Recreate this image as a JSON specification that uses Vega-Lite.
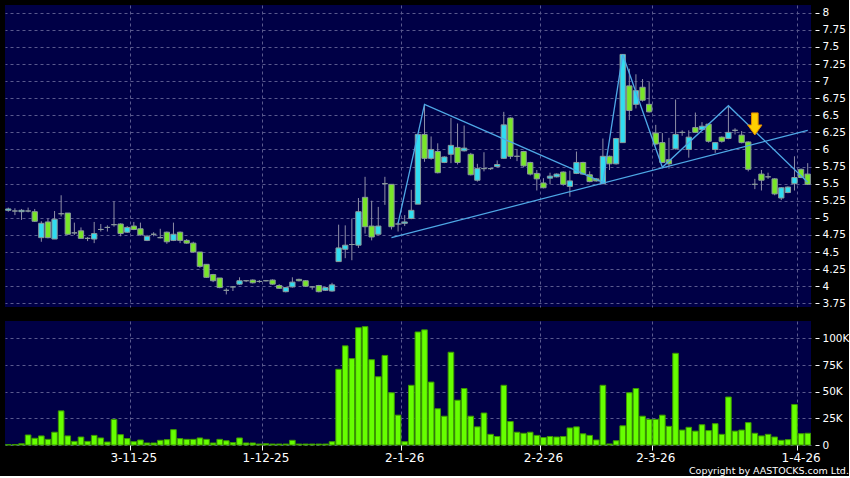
{
"$schema":"https://vega.github.io/schema/vega-lite/v6.json",
"background":"#000000",
"padding":{"left":4,"top":5,"right":0,"bottom":0},
"config":{"view":{"fill":"#000046","stroke":null},
"axis":{"labelFont":"DejaVu Sans","labelColor":"#ffffff","tickColor":"#ffffff","domain":false,"gridColor":"#5a5a8e","gridDash":[3,3],"gridOpacity":1,"title":null}},
"title":{"text":"Copyright by AASTOCKS.com Ltd.","orient":"bottom","anchor":"end","color":"#ffffff","font":"DejaVu Sans","fontSize":9.5,"fontWeight":"normal","offset":3},
"datasets":{"px":[
{"d":"2025-10-03","o":5.11,"h":5.15,"l":5.09,"c":5.13,"v":300},
{"d":"2025-10-06","o":5.10,"h":5.14,"l":5.04,"c":5.10,"v":400},
{"d":"2025-10-08","o":5.09,"h":5.13,"l":4.97,"c":5.11,"v":1200},
{"d":"2025-10-09","o":5.10,"h":5.15,"l":5.08,"c":5.10,"v":9400},
{"d":"2025-10-10","o":5.09,"h":5.13,"l":4.94,"c":4.95,"v":6300},
{"d":"2025-10-13","o":4.71,"h":4.95,"l":4.65,"c":4.92,"v":8500},
{"d":"2025-10-14","o":4.94,"h":4.99,"l":4.70,"c":4.71,"v":5300},
{"d":"2025-10-15","o":4.69,"h":5.10,"l":4.69,"c":4.98,"v":12000},
{"d":"2025-10-16","o":5.06,"h":5.33,"l":5.02,"c":5.06,"v":32000},
{"d":"2025-10-17","o":5.07,"h":5.07,"l":4.75,"c":4.76,"v":8500},
{"d":"2025-10-20","o":4.78,"h":4.93,"l":4.75,"c":4.78,"v":3400},
{"d":"2025-10-21","o":4.81,"h":4.86,"l":4.70,"c":4.70,"v":7500},
{"d":"2025-10-22","o":4.70,"h":4.72,"l":4.66,"c":4.70,"v":3400},
{"d":"2025-10-23","o":4.69,"h":4.94,"l":4.63,"c":4.77,"v":9000},
{"d":"2025-10-24","o":4.83,"h":4.91,"l":4.80,"c":4.83,"v":6600},
{"d":"2025-10-27","o":4.86,"h":4.89,"l":4.80,"c":4.86,"v":2800},
{"d":"2025-10-28","o":4.90,"h":5.24,"l":4.87,"c":4.90,"v":24000},
{"d":"2025-10-30","o":4.91,"h":4.92,"l":4.73,"c":4.77,"v":9700},
{"d":"2025-10-31","o":4.79,"h":4.88,"l":4.78,"c":4.86,"v":6000},
{"d":"2025-11-03","o":4.88,"h":4.94,"l":4.82,"c":4.83,"v":3100},
{"d":"2025-11-04","o":4.84,"h":4.93,"l":4.74,"c":4.75,"v":4700},
{"d":"2025-11-05","o":4.67,"h":4.75,"l":4.66,"c":4.73,"v":1900},
{"d":"2025-11-06","o":4.76,"h":4.79,"l":4.73,"c":4.76,"v":1900},
{"d":"2025-11-07","o":4.71,"h":4.84,"l":4.70,"c":4.71,"v":4400},
{"d":"2025-11-10","o":4.79,"h":4.80,"l":4.62,"c":4.65,"v":5000},
{"d":"2025-11-11","o":4.67,"h":4.93,"l":4.66,"c":4.76,"v":14400},
{"d":"2025-11-12","o":4.79,"h":4.80,"l":4.63,"c":4.67,"v":6000},
{"d":"2025-11-13","o":4.67,"h":4.69,"l":4.62,"c":4.63,"v":5300},
{"d":"2025-11-14","o":4.63,"h":4.65,"l":4.49,"c":4.50,"v":5300},
{"d":"2025-11-17","o":4.50,"h":4.50,"l":4.27,"c":4.29,"v":6600},
{"d":"2025-11-18","o":4.32,"h":4.32,"l":4.12,"c":4.13,"v":5300},
{"d":"2025-11-19","o":4.17,"h":4.18,"l":4.06,"c":4.08,"v":1900},
{"d":"2025-11-20","o":4.12,"h":4.12,"l":3.97,"c":3.98,"v":5300},
{"d":"2025-11-21","o":3.94,"h":3.97,"l":3.88,"c":3.94,"v":4000},
{"d":"2025-11-24","o":3.99,"h":4.00,"l":3.93,"c":3.99,"v":2200},
{"d":"2025-11-25","o":4.03,"h":4.13,"l":4.02,"c":4.08,"v":6600},
{"d":"2025-11-26","o":4.08,"h":4.09,"l":4.06,"c":4.08,"v":1900},
{"d":"2025-11-27","o":4.09,"h":4.10,"l":4.04,"c":4.05,"v":1900},
{"d":"2025-11-28","o":4.07,"h":4.09,"l":4.05,"c":4.07,"v":900},
{"d":"2025-12-01","o":4.08,"h":4.08,"l":4.07,"c":4.08,"v":1200},
{"d":"2025-12-02","o":4.09,"h":4.10,"l":4.02,"c":4.03,"v":900},
{"d":"2025-12-03","o":4.01,"h":4.03,"l":3.96,"c":3.97,"v":900},
{"d":"2025-12-04","o":3.92,"h":3.99,"l":3.91,"c":3.98,"v":900},
{"d":"2025-12-05","o":3.99,"h":4.13,"l":3.98,"c":4.06,"v":4400},
{"d":"2025-12-08","o":4.10,"h":4.11,"l":4.07,"c":4.08,"v":900},
{"d":"2025-12-09","o":4.08,"h":4.09,"l":3.99,"c":4.00,"v":900},
{"d":"2025-12-10","o":3.99,"h":4.00,"l":3.95,"c":3.99,"v":900},
{"d":"2025-12-11","o":4.01,"h":4.02,"l":3.91,"c":3.92,"v":900},
{"d":"2025-12-12","o":3.94,"h":3.99,"l":3.93,"c":3.98,"v":900},
{"d":"2025-12-15","o":3.93,"h":4.05,"l":3.92,"c":4.02,"v":3100},
{"d":"2025-12-16","o":4.36,"h":4.90,"l":4.36,"c":4.56,"v":71000},
{"d":"2025-12-17","o":4.54,"h":4.89,"l":4.41,"c":4.60,"v":93000},
{"d":"2025-12-18","o":4.61,"h":4.99,"l":4.38,"c":4.61,"v":81000},
{"d":"2025-12-19","o":4.60,"h":5.29,"l":4.56,"c":5.09,"v":110000},
{"d":"2025-12-22","o":5.30,"h":5.60,"l":4.77,"c":4.87,"v":111000},
{"d":"2025-12-23","o":4.88,"h":5.25,"l":4.67,"c":4.72,"v":80000},
{"d":"2025-12-24","o":4.76,"h":5.16,"l":4.76,"c":4.88,"v":64000},
{"d":"2025-12-29","o":5.50,"h":5.60,"l":5.19,"c":5.50,"v":84000},
{"d":"2025-12-30","o":5.49,"h":5.49,"l":4.83,"c":4.87,"v":49000,"tr":4.71},
{"d":"2025-12-31","o":4.91,"h":4.94,"l":4.80,"c":4.91,"v":28000,"zz":4.92},
{"d":"2026-01-02","o":4.92,"h":5.04,"l":4.88,"c":4.94,"v":3100},
{"d":"2026-01-05","o":4.99,"h":5.41,"l":4.98,"c":5.11,"v":56000},
{"d":"2026-01-06","o":5.20,"h":6.22,"l":5.20,"c":6.22,"v":106000},
{"d":"2026-01-07","o":6.22,"h":6.65,"l":5.82,"c":5.87,"v":108000,"zz":6.66},
{"d":"2026-01-08","o":5.87,"h":6.19,"l":5.85,"c":6.00,"v":59000},
{"d":"2026-01-09","o":5.97,"h":6.09,"l":5.65,"c":5.66,"v":34000},
{"d":"2026-01-12","o":5.81,"h":5.90,"l":5.80,"c":5.89,"v":27000},
{"d":"2026-01-13","o":5.93,"h":6.46,"l":5.80,"c":6.06,"v":87000},
{"d":"2026-01-14","o":6.03,"h":6.38,"l":5.78,"c":5.81,"v":42000},
{"d":"2026-01-15","o":5.98,"h":6.35,"l":5.97,"c":6.02,"v":53000},
{"d":"2026-01-16","o":5.93,"h":5.95,"l":5.62,"c":5.63,"v":27000},
{"d":"2026-01-19","o":5.55,"h":5.79,"l":5.53,"c":5.72,"v":17000},
{"d":"2026-01-20","o":5.72,"h":5.96,"l":5.68,"c":5.72,"v":30000},
{"d":"2026-01-21","o":5.72,"h":5.73,"l":5.70,"c":5.72,"v":10000},
{"d":"2026-01-22","o":5.75,"h":5.84,"l":5.74,"c":5.78,"v":8000},
{"d":"2026-01-23","o":5.87,"h":6.55,"l":5.86,"c":6.36,"v":56000},
{"d":"2026-01-26","o":6.46,"h":6.47,"l":5.86,"c":5.90,"v":22000},
{"d":"2026-01-27","o":5.90,"h":6.00,"l":5.83,"c":5.90,"v":12000},
{"d":"2026-01-28","o":5.97,"h":5.98,"l":5.74,"c":5.76,"v":11000},
{"d":"2026-01-29","o":5.81,"h":5.82,"l":5.62,"c":5.64,"v":12000},
{"d":"2026-01-30","o":5.65,"h":5.70,"l":5.40,"c":5.57,"v":9000},
{"d":"2026-02-02","o":5.51,"h":5.58,"l":5.43,"c":5.44,"v":7000},
{"d":"2026-02-03","o":5.58,"h":5.66,"l":5.49,"c":5.61,"v":8000},
{"d":"2026-02-04","o":5.60,"h":5.65,"l":5.59,"c":5.64,"v":7500},
{"d":"2026-02-05","o":5.67,"h":5.68,"l":5.47,"c":5.49,"v":8000},
{"d":"2026-02-06","o":5.46,"h":5.69,"l":5.31,"c":5.54,"v":16000},
{"d":"2026-02-09","o":5.65,"h":5.97,"l":5.64,"c":5.81,"v":17000},
{"d":"2026-02-10","o":5.81,"h":5.82,"l":5.63,"c":5.64,"v":10500},
{"d":"2026-02-11","o":5.63,"h":5.68,"l":5.52,"c":5.53,"v":9000},
{"d":"2026-02-12","o":5.57,"h":5.58,"l":5.53,"c":5.54,"v":4700},
{"d":"2026-02-13","o":5.50,"h":6.16,"l":5.49,"c":5.90,"v":56000,"zz":5.52},
{"d":"2026-02-16","o":5.90,"h":5.91,"l":5.70,"c":5.79,"v":1000},
{"d":"2026-02-20","o":5.79,"h":6.17,"l":5.78,"c":6.16,"v":4000},
{"d":"2026-02-23","o":6.10,"h":7.39,"l":6.10,"c":7.39,"v":18000,"zz":7.39},
{"d":"2026-02-24","o":6.93,"h":7.18,"l":6.43,"c":6.57,"v":49000},
{"d":"2026-02-25","o":6.66,"h":7.10,"l":6.60,"c":6.86,"v":53000},
{"d":"2026-02-26","o":6.91,"h":7.03,"l":6.70,"c":6.72,"v":27000},
{"d":"2026-02-27","o":6.66,"h":6.99,"l":6.54,"c":6.55,"v":24000},
{"d":"2026-03-02","o":6.24,"h":6.36,"l":6.06,"c":6.08,"v":24000},
{"d":"2026-03-03","o":6.10,"h":6.24,"l":5.80,"c":5.81,"v":28000,"zz":5.74},
{"d":"2026-03-04","o":5.85,"h":6.17,"l":5.72,"c":5.79,"v":17500},
{"d":"2026-03-05","o":6.01,"h":6.73,"l":6.00,"c":6.22,"v":86000},
{"d":"2026-03-06","o":6.25,"h":6.28,"l":6.20,"c":6.25,"v":14000},
{"d":"2026-03-09","o":6.00,"h":6.28,"l":5.88,"c":6.18,"v":16600},
{"d":"2026-03-10","o":6.32,"h":6.54,"l":6.24,"c":6.25,"v":13000},
{"d":"2026-03-11","o":6.29,"h":6.40,"l":6.28,"c":6.34,"v":19000},
{"d":"2026-03-12","o":6.37,"h":6.38,"l":6.10,"c":6.12,"v":13500},
{"d":"2026-03-13","o":6.00,"h":6.11,"l":5.95,"c":6.10,"v":20000},
{"d":"2026-03-16","o":6.18,"h":6.19,"l":6.10,"c":6.12,"v":10000},
{"d":"2026-03-17","o":6.16,"h":6.63,"l":6.15,"c":6.25,"v":45000,"zz":6.64},
{"d":"2026-03-18","o":6.28,"h":6.31,"l":6.22,"c":6.28,"v":13000},
{"d":"2026-03-19","o":6.21,"h":6.27,"l":6.09,"c":6.10,"v":14000},
{"d":"2026-03-20","o":6.11,"h":6.12,"l":5.68,"c":5.71,"v":21000},
{"d":"2026-03-23","o":5.49,"h":5.57,"l":5.42,"c":5.49,"v":11000,"ar":6.374},
{"d":"2026-03-24","o":5.64,"h":5.70,"l":5.40,"c":5.55,"v":8500},
{"d":"2026-03-25","o":5.60,"h":5.66,"l":5.57,"c":5.60,"v":10000},
{"d":"2026-03-26","o":5.57,"h":5.58,"l":5.33,"c":5.35,"v":7500},
{"d":"2026-03-27","o":5.29,"h":5.45,"l":5.26,"c":5.44,"v":4400},
{"d":"2026-03-30","o":5.37,"h":5.46,"l":5.36,"c":5.45,"v":5000},
{"d":"2026-03-31","o":5.50,"h":5.90,"l":5.40,"c":5.59,"v":38000},
{"d":"2026-04-01","o":5.71,"h":5.72,"l":5.58,"c":5.59,"v":10600},
{"d":"2026-04-02","o":5.64,"h":5.80,"l":5.48,"c":5.49,"v":11000,"zz":5.52,"tr":6.28}
]},
"spacing":12,
"vconcat":[
{"width":806,"height":302,"data":{"name":"px"},
"encoding":{"x":{"field":"d","type":"ordinal","scale":{"type":"band","paddingInner":0,"paddingOuter":0},
"axis":{"labels":false,"ticks":false,"domain":false,"grid":true,"bandPosition":0,"values":["2025-11-03","2025-12-01","2026-01-02","2026-02-02","2026-03-02","2026-04-01"]}}},
"layer":[
{"mark":{"type":"rule","color":"#8e8ea6","strokeWidth":1},
"encoding":{"y":{"field":"l","type":"quantitative","scale":{"domain":[3.696,8.113],"nice":false,"zero":false},
"axis":{"orient":"right","values":[3.75,4,4.25,4.5,4.75,5,5.25,5.5,5.75,6,6.25,6.5,6.75,7,7.25,7.5,7.75,8],"tickCount":40,"labelExpr":"format(datum.value, '~g')","labelOverlap":false,"offset":4,"tickSize":4,"labelPadding":3,"labelFontSize":10.5,"grid":true}},
"y2":{"field":"h"}}},
{"mark":{"type":"bar","width":{"band":0.8},"strokeWidth":1,"stroke":"#8b9b9b"},
"encoding":{"y":{"field":"o","type":"quantitative"},"y2":{"field":"c"},
"fill":{"condition":[{"test":"datum.c > datum.o","value":"#30dcf0"},{"test":"datum.c < datum.o","value":"#78e628"}],"value":"#9a9aaa"}}},
{"transform":[{"filter":"isValid(datum.tr)"}],
"mark":{"type":"line","color":"#4ea8e6","strokeWidth":1.3},
"encoding":{"y":{"field":"tr","type":"quantitative"}}},
{"transform":[{"filter":"isValid(datum.zz)"}],
"mark":{"type":"line","color":"#4ea8e6","strokeWidth":1.3},
"encoding":{"y":{"field":"zz","type":"quantitative"}}},
{"transform":[{"filter":"isValid(datum.ar)"}],
"mark":{"type":"point","shape":"M-0.3,-1L0.3,-1L0.3,0.1L0.65,0.1L0,1L-0.65,0.1L-0.3,0.1Z","size":484,"filled":true,"fill":"#ffd000","stroke":"#e08a00","strokeWidth":1,"opacity":1},
"encoding":{"y":{"field":"ar","type":"quantitative"}}}
]},
{"width":806,"height":124,"data":{"name":"px"},
"mark":{"type":"bar","width":{"band":0.85},"fill":"#66ff00","stroke":"#3d9900","strokeWidth":1},
"encoding":{"x":{"field":"d","type":"ordinal","scale":{"type":"band","paddingInner":0,"paddingOuter":0},
"axis":{"values":["2025-11-03","2025-12-01","2026-01-02","2026-02-02","2026-03-02","2026-04-01"],"bandPosition":0,"labelAngle":0,"tickSize":5,"labelPadding":2,"labelFontSize":12,"grid":true,
"labelExpr":"toNumber(slice(datum.value,8,10)) + '-' + toNumber(slice(datum.value,5,7)) + '-' + slice(datum.value,2,4)"}},
"y":{"field":"v","type":"quantitative","scale":{"domain":[0,116300],"nice":false},
"axis":{"orient":"right","values":[0,25000,50000,75000,100000],"tickCount":20,"offset":4,"tickSize":4,"labelPadding":3,"labelFontSize":10.5,"grid":true,
"labelExpr":"datum.value == 0 ? '0' : (datum.value / 1000) + 'K'"}}}}
]
}
